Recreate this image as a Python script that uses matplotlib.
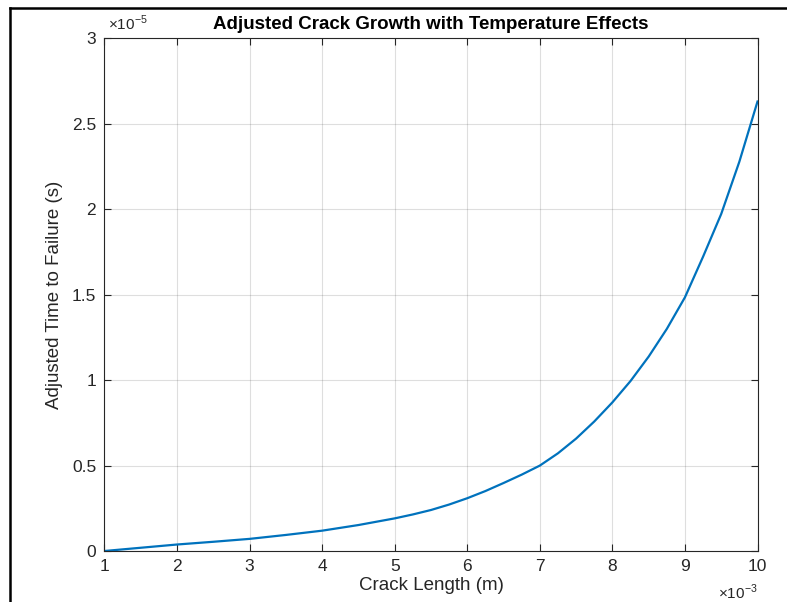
import matplotlib.pyplot as plt
import matplotlib.ticker as ticker
from matplotlib.lines import Line2D

plt.rcParams['font.family'] = ['Liberation Sans', 'DejaVu Sans']
plt.rcParams['mathtext.fontset'] = 'custom'
plt.rcParams['mathtext.rm'] = 'Liberation Sans'

# crack length in units of 1e-3 m, time to failure in units of 1e-5 s
crack_length = [1.0, 1.5, 2.0, 2.5, 3.0, 3.5, 4.0, 4.5, 5.0, 5.25, 5.5, 5.75,
                6.0, 6.25, 6.5, 6.75, 7.0, 7.25, 7.5, 7.75, 8.0, 8.25, 8.5,
                8.75, 9.0, 9.25, 9.5, 9.75, 10.0]
time_to_failure = [0.0, 0.019, 0.038, 0.054, 0.071, 0.094, 0.119, 0.152, 0.191,
                   0.214, 0.240, 0.272, 0.309, 0.351, 0.398, 0.447, 0.500, 0.572,
                   0.658, 0.758, 0.870, 0.995, 1.138, 1.300, 1.485, 1.723, 1.973,
                   2.279, 2.631]
x_ticks = [1, 2, 3, 4, 5, 6, 7, 8, 9, 10]
y_ticks = [0, 0.5, 1, 1.5, 2, 2.5, 3]

text_col = '#262626'

fig = plt.figure(figsize=(7.87, 6.02), dpi=100)
ax = fig.add_axes([104.5 / 787, 51 / 602, 653 / 787, 512.5 / 602])

ax.plot(crack_length, time_to_failure, color='#0072BD', linewidth=1.6)

ax.set_xlim(1, 10)
ax.set_ylim(0, 3)
ax.set_xticks(x_ticks)
ax.set_yticks(y_ticks)
fmt = ticker.FuncFormatter(lambda v, p: f'{v:g}')
ax.xaxis.set_major_formatter(fmt)
ax.yaxis.set_major_formatter(fmt)
ax.tick_params(direction='in', length=5, width=0.8, top=True, right=True,
               labelsize=12.5, colors=text_col, pad=6)
for s in ax.spines.values():
    s.set_color(text_col)
    s.set_linewidth(0.8)
ax.grid(True, color='#262626', alpha=0.15, linewidth=0.8)

ax.set_title('Adjusted Crack Growth with Temperature Effects',
             fontsize=13.5, fontweight='bold', color='black', pad=7)
ax.set_xlabel('Crack Length (m)', fontsize=13.5, color=text_col, labelpad=2)
ax.set_ylabel('Adjusted Time to Failure (s)', fontsize=13.5, color=text_col, labelpad=6)

# exponent labels, MATLAB style
ax.text(0.005, 1.01, r'$\times10^{-5}$', transform=ax.transAxes,
        fontsize=11, color=text_col, ha='left', va='bottom')
ax.text(1.0, -0.061, r'$\times10^{-3}$', transform=ax.transAxes,
        fontsize=11, color=text_col, ha='right', va='top')

# screenshot frame (left and top edges)
fig.add_artist(Line2D([10 / 787, 10 / 787], [0, 1 - 8 / 602], color='black',
                      linewidth=1.8, transform=fig.transFigure))
fig.add_artist(Line2D([10 / 787, 1], [1 - 8 / 602, 1 - 8 / 602], color='black',
                      linewidth=1.8, transform=fig.transFigure))

plt.savefig('out.png', dpi=100)
